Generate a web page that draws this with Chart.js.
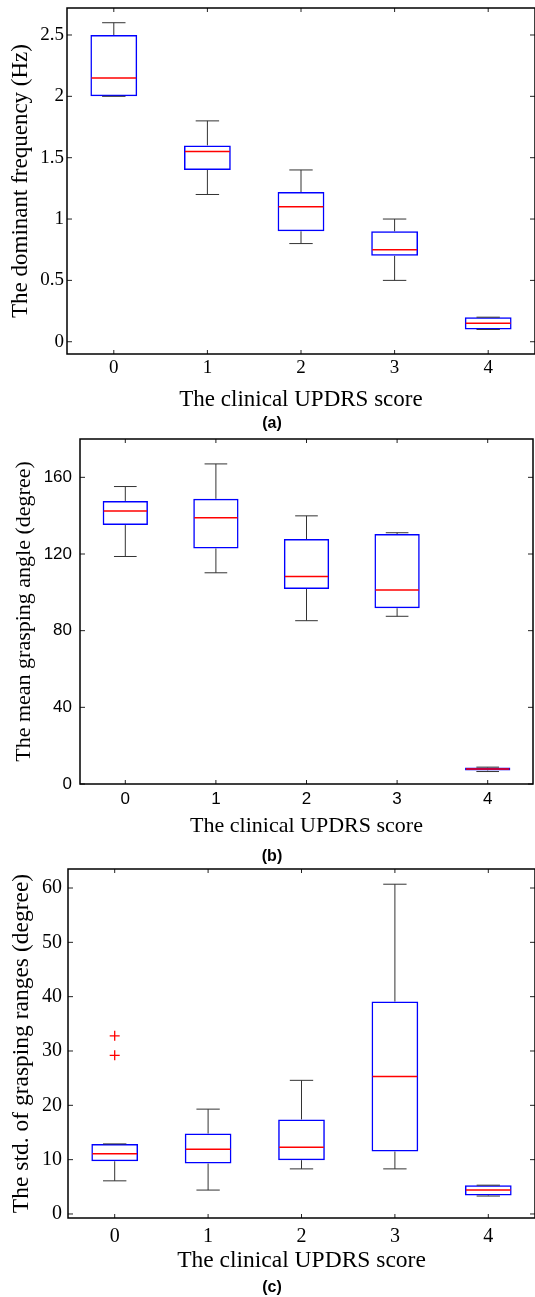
<!DOCTYPE html>
<html>
<head>
<meta charset="utf-8">
<script src="https://cdn.jsdelivr.net/npm/chart.js@4.4.1/dist/chart.umd.min.js"></script>
<style>
    body { margin: 0; background: #fff; width: 535px; height: 1297px; overflow: hidden; position: relative; }
    .panel { position: absolute; left: 0; width: 535px; }
    .cap { position: absolute; left: 0; width: 544px; text-align: center; font: bold 16px 'Liberation Sans', Arial, sans-serif; line-height: 20px; color: #000; }
</style>
</head>
<body>
<div class="panel" style="top:0;height:414px"><canvas id="chartA"></canvas></div>
<div class="cap" style="top:413px">(a)</div>
<div class="panel" style="top:430px;height:409px"><canvas id="chartB"></canvas></div>
<div class="cap" style="top:846px">(b)</div>
<div class="panel" style="top:860px;height:415px"><canvas id="chartC"></canvas></div>
<div class="cap" style="top:1277px">(c)</div>

<script>
const categorias = ['0', '1', '2', '3', '4'];

// (a) frecuencia dominante (Hz)
const freqMin = [2.0, 1.2, 0.8, 0.5, 0.1];
const freqQ1  = [2.0, 1.4, 0.9, 0.7, 0.1];
const freqMed = [2.15, 1.55, 1.1, 0.75, 0.15];
const freqQ3  = [2.5, 1.6, 1.22, 0.9, 0.2];
const freqMax = [2.6, 1.8, 1.4, 1.0, 0.2];
const freqTicks = [0, 0.5, 1, 1.5, 2, 2.5];

// (b) angulo medio (grados)
const angMin = [118.7, 110.2, 85.2, 87.5, 6.5];
const angQ1  = [135.1, 122.9, 101.7, 91.7, 7.0];
const angMed = [142.5, 138.9, 108.2, 101.2, 7.8];
const angQ3  = [147.7, 148.8, 127.8, 130.4, 8.6];
const angMax = [155.2, 167.0, 139.9, 131.1, 8.8];
const angTicks = [0, 40, 80, 120, 160];

// (c) desviacion de rangos (grados)
const stdMin = [6.1, 4.4, 8.3, 8.3, 3.3];
const stdQ1  = [9.7, 9.3, 9.9, 11.5, 3.4];
const stdMed = [11.1, 11.9, 12.3, 25.3, 4.4];
const stdQ3  = [12.9, 14.8, 17.4, 39.1, 5.3];
const stdMax = [12.9, 19.3, 24.6, 60.7, 5.3];
const stdAtipX = ['0', '0'];
const stdAtipY = [32.8, 29.2];
const stdTicks = [0, 10, 20, 30, 40, 50, 60];

const SERIF = "'Liberation Serif', 'Times New Roman', serif";
const SANS = "'Liberation Sans', Arial, sans-serif";

function crearBoxplot(id, d) {
    const datasets = [{
        type: 'bar',
        data: d.q1.map((v, i) => [v, d.q3[i]]),
        backgroundColor: 'rgba(0,0,0,0)',
        borderColor: '#0000ff',
        borderWidth: 1.5,
        borderSkipped: false,
        barPercentage: 0.5,
        categoryPercentage: 1.0
    }];
    if (d.outX) {
        datasets.push({
            type: 'scatter',
            data: d.outX.map((x, i) => ({ x, y: d.outY[i] })),
            pointStyle: 'cross',
            radius: 5,
            borderColor: '#ff0000',
            borderWidth: 1.3
        });
    }

    return new Chart(document.getElementById(id), {
        type: 'bar',
        data: { labels: categorias, datasets },
        options: {
            responsive: true,
            maintainAspectRatio: false,
            animation: false,
            layout: { autoPadding: false, padding: { top: d.top, right: d.right, left: 0, bottom: 0 } },
            plugins: { legend: { display: false }, tooltip: { enabled: false } },
            scales: {
                x: {
                    grid: { display: false, drawTicks: false },
                    border: { display: false },
                    ticks: { color: '#000', padding: d.xPad, font: d.tickFont },
                    title: { display: true, text: 'The clinical UPDRS score', color: '#000', font: d.titleFont, padding: { top: 0, bottom: 0 } },
                    afterFit: s => { s.height = d.xh; s.paddingLeft = 0; s.paddingRight = 0; }
                },
                y: {
                    min: d.yMin,
                    max: d.yMax,
                    grid: { display: false, drawTicks: false },
                    border: { display: false },
                    afterBuildTicks: s => { s.ticks = d.ticks.map(v => ({ value: v })); },
                    ticks: { color: '#000', padding: d.yPad, font: d.tickFont, callback: v => String(v) },
                    title: { display: true, text: d.yTitle, color: '#000', font: d.titleFont, padding: { top: d.yTitlePad, bottom: 0 } },
                    afterFit: s => { s.width = d.left; s.paddingTop = 0; s.paddingBottom = 0; }
                }
            }
        },
        plugins: [{
            id: 'cajas',
            afterDatasetsDraw(chart) {
                const { ctx, chartArea: ca, scales: { x, y } } = chart;
                const paso = x.getPixelForValue(1) - x.getPixelForValue(0);
                const seg = (x1, y1, x2, y2) => { ctx.beginPath(); ctx.moveTo(x1, y1); ctx.lineTo(x2, y2); ctx.stroke(); };
                ctx.save();
                categorias.forEach((c, i) => {
                    const cx = x.getPixelForValue(i);
                    const yHi = y.getPixelForValue(d.hi[i]);
                    const yLo = y.getPixelForValue(d.lo[i]);
                    ctx.strokeStyle = '#333';
                    ctx.lineWidth = 1;
                    seg(cx, y.getPixelForValue(d.q3[i]), cx, yHi);
                    seg(cx, y.getPixelForValue(d.q1[i]), cx, yLo);
                    seg(cx - paso / 8, yHi, cx + paso / 8, yHi);
                    seg(cx - paso / 8, yLo, cx + paso / 8, yLo);
                    const ym = y.getPixelForValue(d.med[i]);
                    ctx.strokeStyle = '#ff0000';
                    ctx.lineWidth = 1.5;
                    seg(cx - paso / 4 + 1, ym, cx + paso / 4 - 1, ym);
                });
                // marcas hacia adentro
                ctx.strokeStyle = '#222';
                ctx.lineWidth = 1;
                d.ticks.forEach(v => {
                    const py = y.getPixelForValue(v);
                    seg(ca.left, py, ca.left + 5, py);
                    seg(ca.right, py, ca.right - 5, py);
                });
                categorias.forEach((c, i) => {
                    const px = x.getPixelForValue(i);
                    seg(px, ca.bottom, px, ca.bottom - 4);
                    seg(px, ca.top, px, ca.top + 4);
                });
                ctx.strokeStyle = '#000';
                ctx.lineWidth = 1.5;
                ctx.strokeRect(ca.left, ca.top, ca.right - ca.left, ca.bottom - ca.top);
                ctx.restore();
            }
        }]
    });
}

crearBoxplot('chartA', {
    lo: freqMin, q1: freqQ1, med: freqMed, q3: freqQ3, hi: freqMax,
    ticks: freqTicks, yMin: -0.1, yMax: 2.72, yTitle: 'The dominant frequency (Hz)',
    top: 8, right: 0, left: 67, xh: 60,
    tickFont: { family: SERIF, size: 19 }, titleFont: { family: SERIF, size: 23 },
    xPad: 3, yPad: 3, yTitlePad: 7
});

crearBoxplot('chartB', {
    lo: angMin, q1: angQ1, med: angMed, q3: angQ3, hi: angMax,
    ticks: angTicks, yMin: 0, yMax: 180, yTitle: 'The mean grasping angle (degree)',
    top: 9, right: 2, left: 80, xh: 55,
    tickFont: { family: SANS, size: 17 }, titleFont: { family: SERIF, size: 22 },
    xPad: 5, yPad: 8, yTitlePad: 11.5
});

crearBoxplot('chartC', {
    lo: stdMin, q1: stdQ1, med: stdMed, q3: stdQ3, hi: stdMax,
    outX: stdAtipX, outY: stdAtipY,
    ticks: stdTicks, yMin: -0.74, yMax: 63.5, yTitle: 'The std. of grasping ranges (degree)',
    top: 9, right: 0, left: 68, xh: 57,
    tickFont: { family: SERIF, size: 20 }, titleFont: { family: SERIF, size: 23.5 },
    xPad: 6.5, yPad: 6, yTitlePad: 8
});
</script>
</body>
</html>
